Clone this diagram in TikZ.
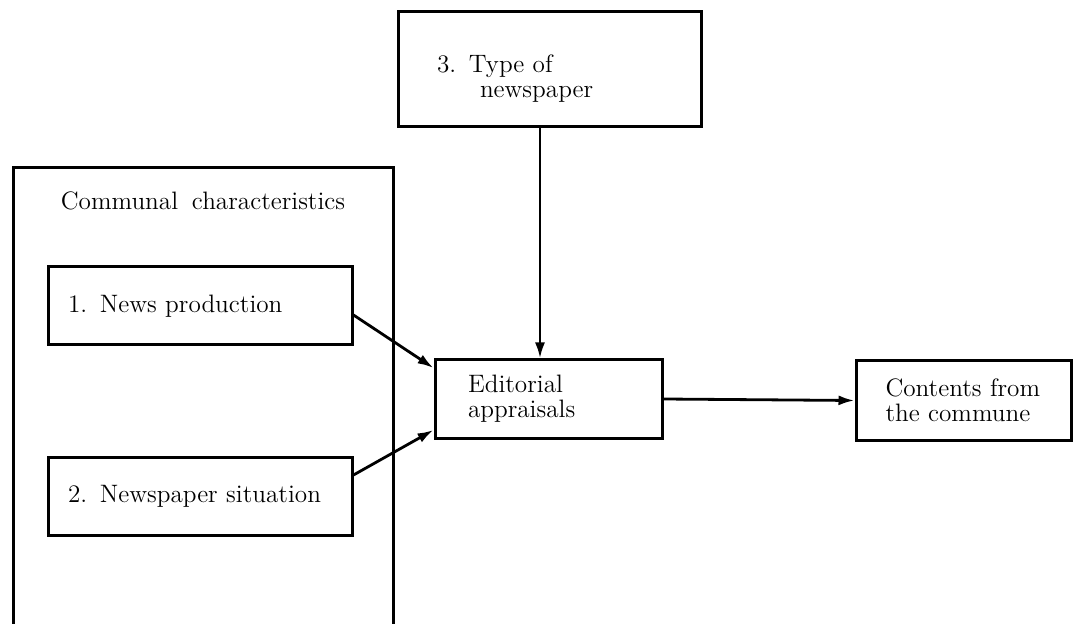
\documentclass[tikz,border=0pt]{standalone}
\usetikzlibrary{arrows.meta}
\newcommand{\boxfont}{\fontsize{12.6}{12.5}\selectfont\spaceskip=0.55em plus 0.1em\relax}
\begin{document}
\begin{tikzpicture}[x=0.5pt,y=-0.5pt,>={Latex[length=8pt,width=5pt]},
    every node/.style={font=\boxfont},
    blk/.style={draw,line width=1.5pt,rectangle,align=left,inner ysep=0pt,minimum height=39pt},
    arr/.style={->,line width=1.4pt}]
    \useasboundingbox (0,0) rectangle (1074,624);
    \draw[line width=1.5pt] (13,624) -- (13,168) -- (393,168) -- (393,624);
    \node (title) at (203,201) {Communal characteristics};
    \node[blk,text width=132pt,inner xsep=10pt] (news) at (200,306) {1. News production};
    \node[blk,text width=132pt,inner xsep=10pt] (sit) at (200,496) {2. Newspaper situation};
    \node[blk,text width=80.5pt,inner xsep=16.5pt] (edit) at (548.5,399) {Editorial\\appraisals};
    \node[blk,text width=78pt,inner xsep=14.75pt,minimum height=39.5pt] (cont) at (963.5,400.5) {Contents from\\the commune};
    \node[blk,text width=112.5pt,inner xsep=19.5pt,minimum height=57.5pt] (type) at (549.5,69.5) {\rule{0pt}{18pt}3. Type of\\\hspace*{21.5pt}newspaper};
    \draw[arr] ([yshift=-4.5pt]news.east) -- ([yshift=15.5pt]edit.west);
    \draw[arr] ([yshift=10.5pt]sit.east) -- ([yshift=-15.5pt]edit.west);
    \draw[arr] ([xshift=-4.75pt]type.south) -- ([xshift=-4.25pt]edit.north);
    \draw[arr] (edit.east) -- (cont.west);
\end{tikzpicture}
\end{document}
